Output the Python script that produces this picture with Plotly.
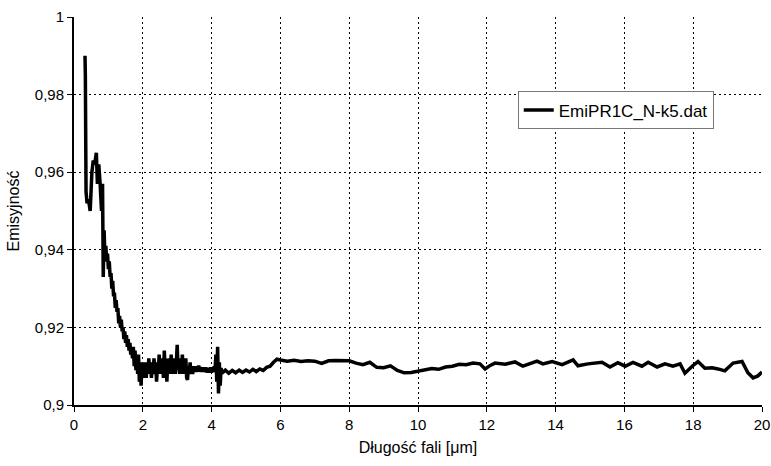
import plotly.graph_objects as go

# Wavelength [µm] and emissivity, in segments
wl_start = [0.32, 0.33, 0.35, 0.38, 0.42, 0.47, 0.52, 0.56, 0.60, 0.65, 0.68, 0.72, 0.76, 0.80, 0.83]
em_start = [0.990, 0.985, 0.955, 0.952, 0.953, 0.950, 0.960, 0.963, 0.962, 0.965, 0.957, 0.962, 0.957, 0.950, 0.957]

wl_slope = [0.850, 0.875, 0.900, 0.925, 0.950, 0.975, 1.000, 1.025, 1.050, 1.075, 1.100, 1.125,
            1.150, 1.175, 1.200, 1.225, 1.250, 1.275, 1.300, 1.325, 1.350, 1.375, 1.400, 1.425,
            1.450, 1.475, 1.500, 1.525, 1.550, 1.575, 1.600, 1.625, 1.650, 1.675, 1.700, 1.725,
            1.750, 1.775, 1.800, 1.825, 1.850, 1.875, 1.900, 1.925, 1.950, 1.975, 2.000]
em_slope = [0.933, 0.945, 0.938, 0.941, 0.937, 0.939, 0.935, 0.937, 0.933, 0.934, 0.930, 0.932,
            0.928, 0.929, 0.925, 0.927, 0.924, 0.925, 0.921, 0.923, 0.920, 0.922, 0.919, 0.920,
            0.917, 0.919, 0.916, 0.918, 0.915, 0.917, 0.914, 0.916, 0.913, 0.915, 0.912, 0.915,
            0.910, 0.914, 0.909, 0.913, 0.908, 0.913, 0.906, 0.911, 0.905, 0.910, 0.907]

wl_noisy = [2.025, 2.050, 2.075, 2.100, 2.125, 2.150, 2.175, 2.200, 2.225, 2.250, 2.275, 2.300,
            2.325, 2.350, 2.375, 2.400, 2.425, 2.450, 2.475, 2.500, 2.525, 2.550, 2.575, 2.600,
            2.625, 2.650, 2.675, 2.700, 2.725, 2.750, 2.775, 2.800, 2.825, 2.850, 2.875, 2.900,
            2.925, 2.950, 2.975, 3.000, 3.025, 3.050, 3.075, 3.100, 3.125, 3.150, 3.175, 3.200,
            3.225, 3.250, 3.275, 3.300, 3.325, 3.350, 3.375, 3.400, 3.425, 3.450, 3.475, 3.500,
            3.525, 3.550, 3.575, 3.600, 3.625, 3.650, 3.675, 3.700, 3.725, 3.750, 3.775, 3.800,
            3.825, 3.850, 3.875, 3.900, 3.925, 3.950, 3.975, 4.000, 4.025, 4.050, 4.075, 4.100,
            4.125, 4.150, 4.175, 4.200, 4.225, 4.250, 4.275, 4.300]
em_noisy = [0.911, 0.908, 0.910, 0.907, 0.911, 0.908, 0.912, 0.909, 0.911, 0.907, 0.910, 0.908,
            0.912, 0.909, 0.911, 0.906, 0.910, 0.908, 0.913, 0.909, 0.912, 0.908, 0.911, 0.907,
            0.914, 0.909, 0.912, 0.906, 0.911, 0.908, 0.912, 0.909, 0.913, 0.908, 0.911, 0.909,
            0.912, 0.908, 0.911, 0.9155, 0.909, 0.912, 0.908, 0.911, 0.909, 0.913, 0.908, 0.911,
            0.909, 0.912, 0.907, 0.9065, 0.910, 0.908, 0.911, 0.908, 0.910, 0.908, 0.910, 0.9085,
            0.910, 0.9085, 0.9100, 0.9088, 0.9102, 0.9086, 0.9098, 0.9085, 0.9097, 0.9086, 0.9096, 0.9085,
            0.9097, 0.9084, 0.9096, 0.9083, 0.9095, 0.9084, 0.9097, 0.9083, 0.9096, 0.9085, 0.9100, 0.9090,
            0.9130, 0.9060, 0.9150, 0.9030, 0.9110, 0.9050, 0.9095, 0.9082]

wl_flat = [4.4, 4.5, 4.6, 4.7, 4.8, 4.9, 5.0, 5.1, 5.2, 5.3, 5.4, 5.5, 5.6, 5.7, 5.8, 5.9]
em_flat = [0.9090, 0.9082, 0.9089, 0.9083, 0.9090, 0.9084, 0.9090, 0.9085, 0.9092, 0.9086,
           0.9093, 0.9089, 0.9097, 0.9100, 0.9110, 0.9118]

wl_mid = [6.00, 6.20, 6.40, 6.60, 6.80, 7.00, 7.20, 7.40, 7.60, 7.80, 8.00, 8.20, 8.40, 8.60, 8.80,
          9.00, 9.20, 9.40, 9.60, 9.80, 10.00, 10.20, 10.40, 10.60, 10.80, 11.00, 11.20, 11.40,
          11.60, 11.80, 11.95]
em_mid = [0.9116, 0.9113, 0.9115, 0.9112, 0.9114, 0.9113, 0.9107, 0.9114, 0.9115, 0.9114, 0.9114,
          0.9108, 0.9104, 0.9110, 0.9097, 0.9096, 0.9101, 0.9089, 0.9083, 0.9084, 0.9087, 0.9089,
          0.9094, 0.9092, 0.9098, 0.9100, 0.9105, 0.9104, 0.9108, 0.9106, 0.9093]

wl_end = [12.10, 12.24, 12.53, 12.82, 13.05, 13.26, 13.46, 13.63, 13.90, 14.19, 14.51, 14.65,
          14.94, 15.35, 15.58, 15.81, 16.02, 16.25, 16.51, 16.69, 16.95, 17.18, 17.41, 17.62,
          17.76, 17.97, 18.14, 18.34, 18.55, 18.72, 18.92, 19.16, 19.42, 19.59, 19.74, 19.88, 20.00]
em_end = [0.9102, 0.9108, 0.9105, 0.9111, 0.9100, 0.9106, 0.9113, 0.9106, 0.9112, 0.9104, 0.9116,
          0.9101, 0.9106, 0.9110, 0.9098, 0.9109, 0.9100, 0.9110, 0.9100, 0.9110, 0.9098, 0.9106,
          0.9100, 0.9106, 0.9082, 0.9100, 0.9112, 0.9095, 0.9096, 0.9093, 0.9088, 0.9108, 0.9112,
          0.9083, 0.9070, 0.9075, 0.9085]

wavelength = wl_start + wl_slope + wl_noisy + wl_flat + wl_mid + wl_end
emissivity = em_start + em_slope + em_noisy + em_flat + em_mid + em_end
assert len(wavelength) == len(emissivity)

x_ticks = [0, 2, 4, 6, 8, 10, 12, 14, 16, 18, 20]
y_ticks = [0.9, 0.92, 0.94, 0.96, 0.98, 1.0]

FONT = "Liberation Sans, Arial, sans-serif"
DOTS = "2px,3px"

fig = go.Figure()
fig.add_trace(go.Scatter(
    x=wavelength, y=emissivity, mode="lines", name="EmiPR1C_N-k5.dat",
    line=dict(color="black", width=3.5),
))

fig.update_layout(
    width=771, height=466,
    margin=dict(l=74, r=9, t=17, b=61),
    plot_bgcolor="white", paper_bgcolor="white",
    separators=", ",
    font=dict(family=FONT, size=15, color="black"),
    showlegend=True,
    legend=dict(
        x=0.645, y=0.808, xanchor="left", yanchor="top",
        bgcolor="white", bordercolor="#777777", borderwidth=1,
        font=dict(family=FONT, size=17, color="black"),
        itemwidth=30, tracegroupgap=0,
    ),
    xaxis=dict(
        range=[0, 20], tickvals=x_ticks, automargin=False,
        showgrid=True, gridcolor="black", griddash=DOTS, gridwidth=1.2,
        showline=True, linecolor="black", linewidth=2,
        ticks="outside", ticklen=5, tickcolor="black", tickwidth=1,
        zeroline=False,
        title=dict(text="Długość fali [μm]", font=dict(size=16), standoff=10),
        tickfont=dict(size=15),
    ),
    yaxis=dict(
        range=[0.9, 1.0], tickvals=y_ticks, automargin=False,
        showgrid=True, gridcolor="black", griddash=DOTS, gridwidth=1.2,
        showline=True, linecolor="black", linewidth=2,
        ticks="outside", ticklen=5, tickcolor="black", tickwidth=1,
        zeroline=False,
        title=dict(text="Emisyjność", font=dict(size=16), standoff=11),
        tickfont=dict(size=15),
    ),
)

fig.write_html("out.html", config={"displayModeBar": False},
               post_script="document.body.style.margin='0';")
